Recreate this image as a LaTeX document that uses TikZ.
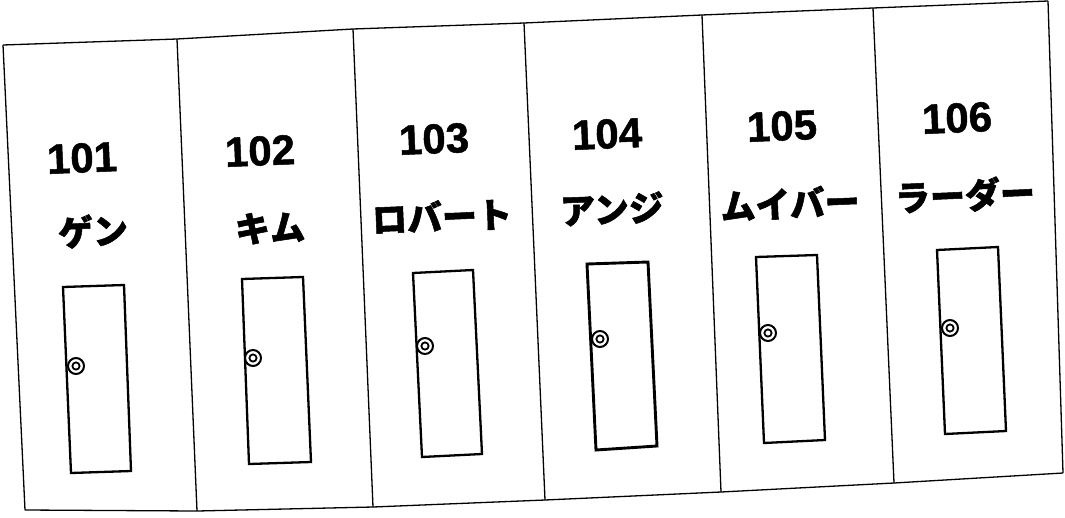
\documentclass[tikz,border=0pt]{standalone}
\usepackage{fontspec}
\setmainfont{Liberation Sans}[BoldFeatures={FakeBold=1.2}]
\newfontfamily\jpfont{Noto Sans CJK JP}[BoldFeatures={FakeBold=1.5}]
\begin{document}
\begin{tikzpicture}[x=1pt,y=-1pt,
  frameline/.style={line width=1.3pt, line join=round},
  doorline/.style={line width=2.3pt, line join=miter},
  knob/.style={line width=2pt, fill=white},
  num/.style={font=\fontsize{42}{42}\selectfont\bfseries, inner sep=0pt, rotate=2.4},
  nm/.style={font=\jpfont\fontsize{35}{35}\selectfont\bfseries, inner sep=0pt, rotate=2.4}]
\useasboundingbox[fill=white] (0,0) rectangle (1065,517);
% frame corners
\coordinate (t0) at (3,45);   \coordinate (b0) at (25,510);
\coordinate (t1) at (177,39); \coordinate (b1) at (197,511);
\coordinate (t2) at (353,29); \coordinate (b2) at (373,507);
\coordinate (t3) at (524,23); \coordinate (b3) at (545,500);
\coordinate (t4) at (702,15); \coordinate (b4) at (721,492);
\coordinate (t5) at (873,8);  \coordinate (b5) at (894,483);
\coordinate (t6) at (1048,1); \coordinate (b6) at (1063,473);
\draw[frameline] (t0) -- (t1) -- (t2) -- (t3) -- (t4) -- (t5) -- (t6);
\draw[frameline] (b0) -- (b1) -- (b2) -- (b3) -- (b4) -- (b5) -- (b6);
\foreach \i in {0,...,6} \draw[frameline] (t\i) -- (b\i);
% labels
\node[num] (n101) at (82,158) {101};
\node[nm]  (m101) at (93,231) {ゲン};
\node[num] (n102) at (260,151) {102};
\node[nm]  (m102) at (270,228) {キム};
\node[num] (n103) at (434,139) {103};
\node[nm]  (m103) at (442,216) {ロバート};
\node[num] (n104) at (607,134) {104};
\node[nm]  (m104) at (612,209) {アンジ};
\node[num] (n105) at (782,126) {105};
\node[nm]  (m105) at (790,203) {ムイバー};
\node[num] (n106) at (957,118) {106};
\node[nm]  (m106) at (965,195) {ラーダー};
% doors
\draw[doorline] (63,287) -- (124,285) -- (131,471) -- (71,473) -- cycle;
\draw[doorline] (242,279) -- (303,277) -- (311,462) -- (249,464) -- cycle;
\draw[doorline] (413,273) -- (473,270) -- (482,454) -- (422,457) -- cycle;
\draw[doorline, line width=2.9pt] (587,264) -- (648,262) -- (657,446) -- (596,450) -- cycle;
\draw[doorline] (756,257) -- (817,255) -- (825,440) -- (764,443) -- cycle;
\draw[doorline] (937,250) -- (998,247) -- (1006,431) -- (945,434) -- cycle;
% knobs
\foreach \x/\y in {76/366, 253/358, 425/346, 600/339, 768/333, 950/328}{
  \draw[knob] (\x,\y) circle[radius=8];
  \draw[line width=1.8pt] (\x,\y) circle[radius=3.6];
}
\end{tikzpicture}
\end{document}
